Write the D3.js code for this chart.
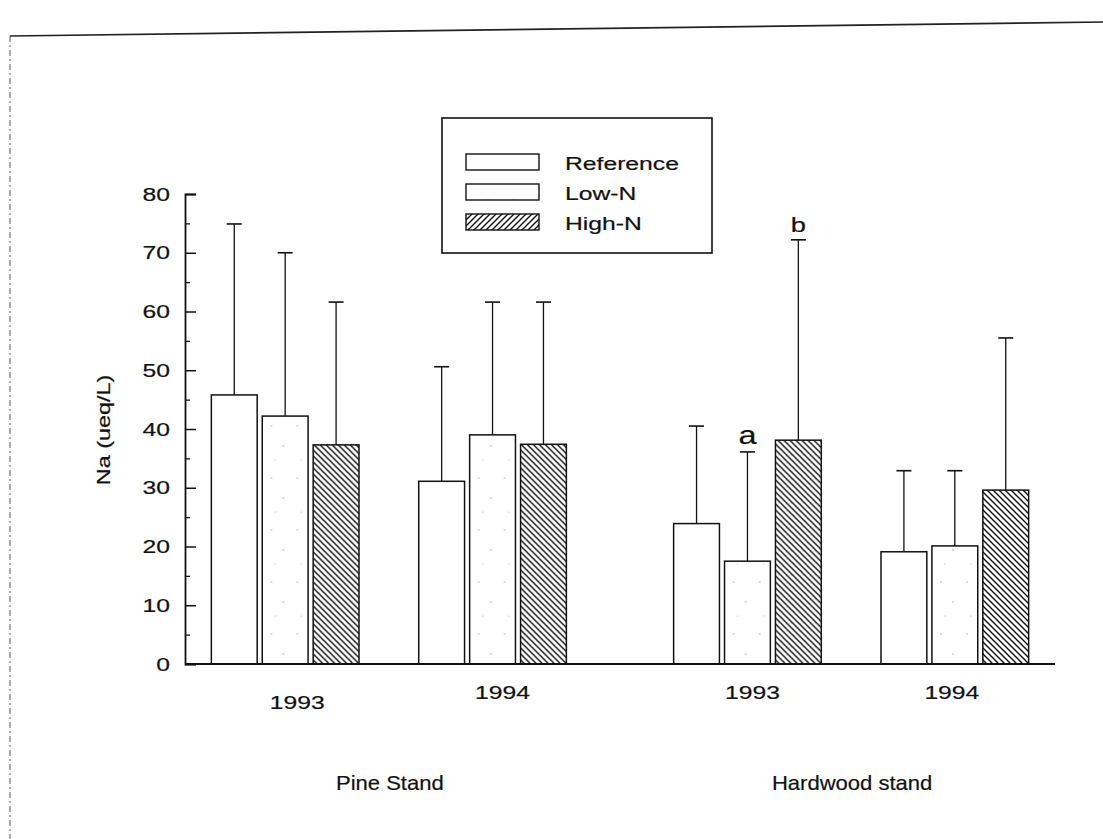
<!DOCTYPE html>
<html>
<head>
<meta charset="utf-8">
<script src="https://cdn.jsdelivr.net/npm/d3@7"></script>
<style>
  body { margin: 0; background: #fff; }
  text { font-family: 'Liberation Sans', Arial, sans-serif; fill: #111; stroke: #111; stroke-width: 0.2px; }
</style>
</head>
<body>
<svg id="chart" width="1103" height="839"></svg>
<script>
// Na concentration by stand, year and N treatment
const stands = ['Pine Stand', 'Hardwood stand']
const years = ['1993', '1994']
const treatments = ['Reference', 'Low-N', 'High-N']
// one row per stand/year group (pine 93, pine 94, hardwood 93, hardwood 94)
const naMean = [
  [45.8, 42.2, 37.3],
  [31.1, 39.0, 37.4],
  [23.9, 17.5, 38.1],
  [19.1, 20.1, 29.6]
]
const naErr = [
  [29.1, 27.8, 24.3],
  [19.5, 22.6, 24.2],
  [16.6, 18.6, 34.1],
  [13.8, 12.8, 25.9]
]
const sigLetters = [
  { group: 2, treatment: 1, text: 'a' },
  { group: 2, treatment: 2, text: 'b' }
]
const yTicks = [0, 10, 20, 30, 40, 50, 60, 70, 80]
const yMinorTicks = [5, 15, 25, 35, 45, 55, 65, 75]
const yTitle = 'Na (ueq/L)'

const sx = 1.3 // the scanned type is wider than Arial

const svg = d3.select('#chart')

const y = d3.scaleLinear().domain([0, 80]).range([664, 194])
const xStand = d3.scaleBand().domain(stands).range([185, 1055])
  .paddingInner(0.232).paddingOuter(0.057)
const xYear = d3.scaleBand().domain(years).range([0, xStand.bandwidth()])
  .paddingInner(0.288)
const xTreat = d3.scaleBand().domain(treatments).range([0, xYear.bandwidth()])
  .paddingInner(0.1)

// patterns
const defs = svg.append('defs')
const hatch = defs.append('pattern').attr('id', 'hatchBar')
  .attr('patternUnits', 'userSpaceOnUse').attr('width', 6).attr('height', 6)
hatch.append('path').attr('d', 'M0,0 L6,6 M-1,5 L1,7 M5,-1 L7,1')
  .attr('stroke', '#111').attr('stroke-width', 1.4)
const hatchL = defs.append('pattern').attr('id', 'hatchLeg')
  .attr('patternUnits', 'userSpaceOnUse').attr('width', 6).attr('height', 6)
hatchL.append('path').attr('d', 'M0,6 L6,0 M-1,1 L1,-1 M5,7 L7,5')
  .attr('stroke', '#111').attr('stroke-width', 1.4)
const stip = defs.append('pattern').attr('id', 'stipple')
  .attr('patternUnits', 'userSpaceOnUse').attr('width', 26).attr('height', 52)
stip.append('rect').attr('width', 26).attr('height', 52).attr('fill', '#fff')
stip.append('circle').attr('cx', 8).attr('cy', 10).attr('r', 0.7).attr('fill', '#999')
stip.append('circle').attr('cx', 20).attr('cy', 30).attr('r', 0.7).attr('fill', '#999')
stip.append('circle').attr('cx', 12).attr('cy', 44).attr('r', 0.6).attr('fill', '#aaa')

function fillFor (t) {
  if (t === 'Low-N') return 'url(#stipple)'
  if (t === 'High-N') return 'url(#hatchBar)'
  return '#fff'
}

function addText (parent, x, yy, str, size, anchor, scaleX) {
  return parent.append('text')
    .attr('transform', `translate(${x},${yy}) scale(${scaleX || sx},1)`)
    .attr('font-size', size)
    .attr('text-anchor', anchor || 'middle')
    .text(str)
}

// page frame from the scan
svg.append('path').attr('d', 'M10,36 L1103,22')
  .attr('stroke', '#222').attr('stroke-width', 1.6).attr('fill', 'none')
svg.append('path').attr('d', 'M10,36 L10,839')
  .attr('stroke', '#555').attr('stroke-width', 1).attr('stroke-dasharray', '6,3,2,3')
  .attr('fill', 'none')

// groups
const groups = []
stands.forEach((s, i) => {
  years.forEach((yr, j) => {
    groups.push({ stand: s, year: yr, idx: i * years.length + j })
  })
})

const gGroup = svg.append('g').selectAll('g')
  .data(groups)
  .enter()
  .append('g')
  .attr('transform', d => `translate(${xStand(d.stand) + xYear(d.year)},0)`)

const bars = gGroup.selectAll('g')
  .data(d => treatments.map((t, k) => ({
    t: t, k: k, group: d.idx, mean: naMean[d.idx][k], err: naErr[d.idx][k]
  })))
  .enter()
  .append('g')

bars.append('line')
  .attr('x1', d => xTreat(d.t) + xTreat.bandwidth() / 2)
  .attr('x2', d => xTreat(d.t) + xTreat.bandwidth() / 2)
  .attr('y1', d => y(d.mean))
  .attr('y2', d => y(d.mean + d.err))
  .attr('stroke', '#111').attr('stroke-width', 1.3)
bars.append('line')
  .attr('x1', d => xTreat(d.t) + xTreat.bandwidth() / 2 - 7.5)
  .attr('x2', d => xTreat(d.t) + xTreat.bandwidth() / 2 + 7.5)
  .attr('y1', d => y(d.mean + d.err))
  .attr('y2', d => y(d.mean + d.err))
  .attr('stroke', '#111').attr('stroke-width', 1.6)
bars.append('rect')
  .attr('x', d => xTreat(d.t))
  .attr('y', d => y(d.mean))
  .attr('width', xTreat.bandwidth())
  .attr('height', d => y(0) - y(d.mean))
  .attr('fill', d => fillFor(d.t))
  .attr('stroke', '#111').attr('stroke-width', 1.5)

// significance letters
sigLetters.forEach(l => {
  const gr = groups[l.group]
  const t = treatments[l.treatment]
  const cx = xStand(gr.stand) + xYear(gr.year) + xTreat(t) + xTreat.bandwidth() / 2
  const top = y(naMean[l.group][l.treatment] + naErr[l.group][l.treatment])
  addText(svg, cx, top - 8, l.text, l.text === 'a' ? 25 : 21)
})

// axes
const yAxis = d3.axisLeft(y).tickValues(yTicks)
  .tickSizeInner(-11).tickSizeOuter(-11).tickPadding(15)
const ga = svg.append('g').attr('transform', 'translate(185,0)').call(yAxis)
ga.attr('font-size', 19).attr('font-family', null)
ga.select('.domain').attr('stroke', '#111').attr('stroke-width', 1.8)
ga.selectAll('.tick line').attr('stroke', '#111').attr('stroke-width', 1.5)
ga.selectAll('.tick text').attr('fill', '#111')
  .attr('x', -15 / sx).attr('transform', `scale(${sx},1)`)

const yMinor = d3.axisLeft(y).tickValues(yMinorTicks).tickSize(-5).tickFormat('')
const gm = svg.append('g').attr('transform', 'translate(185,0)').call(yMinor)
gm.select('.domain').remove()
gm.selectAll('.tick line').attr('stroke', '#111').attr('stroke-width', 1.3)

svg.append('path')
  .attr('d', `M${xStand.range()[0]},${y(0)} H${xStand.range()[1]}`)
  .attr('stroke', '#111').attr('stroke-width', 2)

// x labels
const yearNudge = [[12, 10], [10, 0], [5, 0], [-3, 0]]
groups.forEach(g => {
  const cx = xStand(g.stand) + xYear(g.year) + xYear.bandwidth() / 2
  addText(svg, cx + yearNudge[g.idx][0], 699 + yearNudge[g.idx][1], g.year, 19)
})
stands.forEach(s => {
  addText(svg, xStand(s) + xStand.bandwidth() / 2 + 1, 790, s, 21, 'middle', 1.05)
})

// y title
svg.append('text')
  .attr('transform', `translate(110,430) rotate(-90) scale(${sx},1)`)
  .attr('font-size', 18)
  .attr('text-anchor', 'middle')
  .text(yTitle)

// legend
const leg = svg.append('g').attr('transform', 'translate(442,118)')
leg.append('rect').attr('width', 270).attr('height', 135)
  .attr('fill', '#fff').attr('stroke', '#111').attr('stroke-width', 1.6)
const legFill = ['#fff', 'url(#stipple)', 'url(#hatchLeg)']
treatments.forEach((t, i) => {
  leg.append('rect')
    .attr('x', 24).attr('y', 36 + i * 30)
    .attr('width', 73).attr('height', 16)
    .attr('fill', legFill[i]).attr('stroke', '#111').attr('stroke-width', 1.4)
  addText(leg, 123, 52 + i * 30, t, 19, 'start')
})
</script>
</body>
</html>
